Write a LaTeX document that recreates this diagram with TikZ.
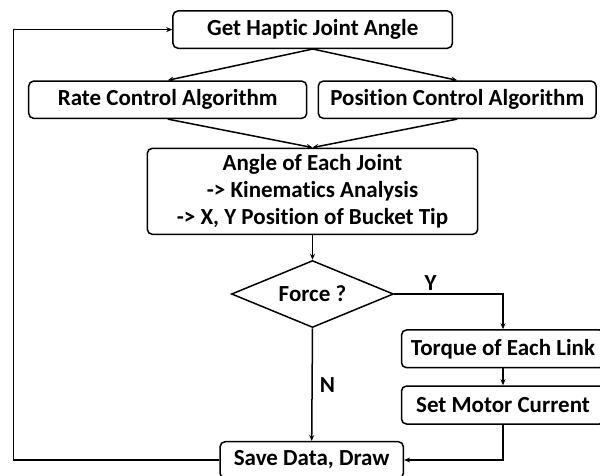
\documentclass[tikz,border=0pt]{standalone}
\usepackage{fontspec}
\setmainfont{Carlito}[RawFeature=-liga]
\usetikzlibrary{shapes.geometric,arrows.meta}
\begin{document}
\begin{tikzpicture}[x=1pt,y=-1pt,
  every node/.style={font=\bfseries\fontsize{23}{27}\selectfont},
  box/.style={draw,line width=1.5pt,rounded corners=5pt,inner sep=0pt,align=center},
  dec/.style={draw,line width=1.5pt,shape=diamond,aspect=2.42,inner sep=0pt},
  conn/.style={line width=1.5pt,-{Stealth[length=6pt,width=5pt]}},
  lbl/.style={inner sep=0pt}]
\useasboundingbox (0,0) rectangle (600,475);
\node[box,minimum width=279.5pt,minimum height=37.3pt] (get) at (312.7,29.6) {Get Haptic Joint Angle};
\node[box,minimum width=278pt,minimum height=37.3pt] (rate) at (167.7,99.7) {Rate Control Algorithm};
\node[box,minimum width=277.7pt,minimum height=37.3pt] (pos) at (457.2,99.7) {Position Control Algorithm};
\node[box,minimum width=330.4pt,minimum height=86pt] (ang) at (312.5,191.3) {Angle of Each Joint\\-> Kinematics Analysis\\-> X, Y Position of Bucket Tip};
\node[dec,minimum width=162pt,minimum height=67pt] (force) at (312.5,294) {Force ?};
\node[box,minimum width=203pt,minimum height=37.7pt] (torque) at (503,348.8) {Torque of Each Link};
\node[box,minimum width=203pt,minimum height=38pt] (motor) at (503,405) {Set Motor Current};
\node[box,minimum width=183.3pt,minimum height=36.6pt] (save) at (311.7,460) {Save Data, Draw};
\coordinate (lt) at (13.3,29.6);
\coordinate (lb) at (13.3,460);
\draw[conn] (get.south) -- (rate.north);
\draw[conn] (get.south) -- (pos.north);
\draw[conn] (rate.south) -- (ang.north);
\draw[conn] (pos.south) -- (ang.north);
\draw[conn] (ang.south) -- (force.north);
\draw[conn] (force.east) -| (torque.north);
\draw[conn] (torque.south) -- (motor.north);
\draw[conn] (motor.south) |- (save.east);
\draw[conn] (force.south) -- (save.north);
\draw[conn] (save.west) -- (lb) -- (lt) -- (get.west);
\node[lbl] (ylab) at (430.7,282.7) {Y};
\node[lbl] (nlab) at (327.5,385) {N};
\end{tikzpicture}
\end{document}
